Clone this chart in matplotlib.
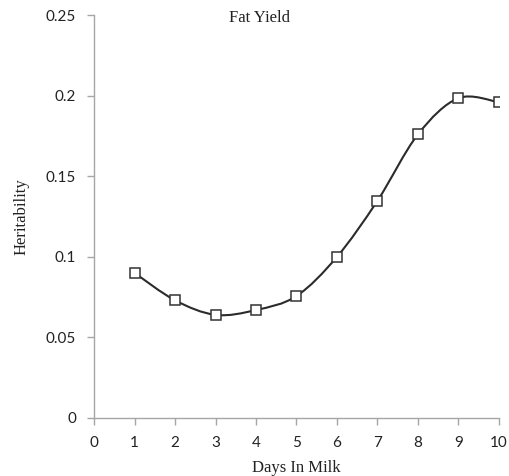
import numpy as np
import matplotlib.pyplot as plt
from matplotlib.path import Path
from matplotlib.patches import PathPatch

days = [1, 2, 3, 4, 5, 6, 7, 8, 9, 10]
heritability = [0.090, 0.073, 0.064, 0.067, 0.0757, 0.100, 0.1348, 0.176, 0.1985, 0.196]
x_ticks = [0, 1, 2, 3, 4, 5, 6, 7, 8, 9, 10]
y_ticks = [0, 0.05, 0.1, 0.15, 0.2, 0.25]
y_tick_labels = ["0", "0.05", "0.1", "0.15", "0.2", "0.25"]


def smooth_path(xs, ys, t=1/6):
    # Excel-like smoothed line as cubic bezier segments
    pts = np.column_stack([xs, ys]).astype(float)
    n = len(pts)
    verts = [pts[0]]
    codes = [Path.MOVETO]
    for i in range(n - 1):
        p0 = pts[i - 1] if i > 0 else pts[i]
        p1 = pts[i]
        p2 = pts[i + 1]
        p3 = pts[i + 2] if i + 2 < n else pts[i + 1]
        c1 = p1 + (p2 - p0) * t
        c2 = p2 - (p3 - p1) * t
        verts += [c1, c2, p2]
        codes += [Path.CURVE4] * 3
    return Path(verts, codes)


fig = plt.figure(figsize=(5.09, 4.76), dpi=100)
ax = fig.add_axes([0.185, 0.122, 0.795, 0.846])

ax.add_patch(PathPatch(smooth_path(days, heritability), facecolor="none",
                       edgecolor="#2b2b2b", lw=1.5, zorder=2))
ax.plot(days, heritability, ls="none", marker="s", ms=7.5, mfc="white",
        mec="#333333", mew=1.1, zorder=3)

ax.set_xlim(0, 10)
ax.set_ylim(0, 0.25)
ax.set_xticks(x_ticks)
ax.set_yticks(y_ticks)
ax.set_yticklabels(y_tick_labels)

for s in ["top", "right"]:
    ax.spines[s].set_visible(False)
for s in ["left", "bottom"]:
    ax.spines[s].set_color("#a6a6a6")
    ax.spines[s].set_linewidth(1.0)
ax.tick_params(colors="#a6a6a6", length=5, width=1.0, direction="out",
               labelcolor="#222222", labelsize=11)
for lab in ax.get_xticklabels() + ax.get_yticklabels():
    lab.set_family("Lato")
ax.tick_params(axis="x", pad=8)
ax.tick_params(axis="y", pad=8)

ax.set_xlabel("Days In Milk", family="Liberation Serif", fontsize=12, color="#222222", labelpad=7)
ax.set_ylabel("Heritability", family="Liberation Serif", fontsize=12, color="#222222", labelpad=12)
fig.text(0.51, 0.962, "Fat Yield", family="Liberation Serif", fontsize=12,
         color="#222222", ha="center", va="center")

fig.savefig("out.png", dpi=100)
